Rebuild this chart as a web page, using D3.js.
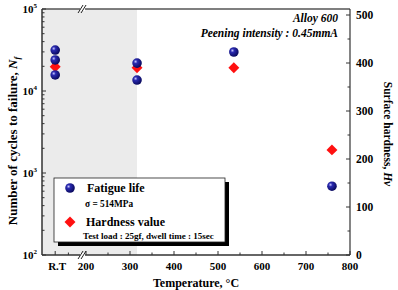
<!DOCTYPE html>
<html>
<head>
<meta charset="utf-8">
<script src="https://cdn.jsdelivr.net/npm/d3@7"></script>
<style>
  body { margin: 0; background: #fff; }
</style>
</head>
<body>
<div id="chart"></div>
<script>
// fatigue life (cycles) vs temperature
const fatigueTemp = [130, 130, 130, 316, 316, 536, 759];
const fatigueLife = [31600, 23900, 15700, 21900, 13600, 29900, 690];

// surface hardness (Hv) vs temperature
const hardTemp = [130, 316, 536, 759];
const hardValue = [392, 390, 390, 219];

const tempMajor = [200, 300, 400, 500, 600, 700, 800];
const tempMinor = [160, 250, 350, 450, 550, 650, 750];
const rtTemp = 130;
const hvMajor = [0, 100, 200, 300, 400, 500];
const hvMinor = [50, 150, 250, 350, 450];
const lifeDecades = [100, 1000, 10000, 100000];
const shadeEnd = 316;
const breakTemp = 191;

const W = 398, H = 290;
const m = {left: 42, right: 350, top: 9, bottom: 255};

const svg = d3.select("#chart").append("svg")
  .attr("width", W).attr("height", H)
  .attr("font-family", "'Liberation Serif', 'Times New Roman', Times, serif")
  .attr("font-weight", "bold");

const x = d3.scaleLinear().domain([100, 800]).range([m.left, m.right]);
const yL = d3.scaleLog().domain([100, 100000]).range([m.bottom, m.top]);
const yR = d3.scaleLinear().domain([0, 512.5]).range([m.bottom, m.top]);

// gradient for the spheres
const defs = svg.append("defs");
const grad = defs.append("radialGradient").attr("id", "ball")
  .attr("cx", "35%").attr("cy", "35%").attr("r", "65%");
grad.append("stop").attr("offset", "0%").attr("stop-color", "#c8c8ff");
grad.append("stop").attr("offset", "30%").attr("stop-color", "#2a2ab0");
grad.append("stop").attr("offset", "100%").attr("stop-color", "#0a0a60");

// shaded room temp zone
svg.append("rect")
  .attr("x", m.left).attr("y", m.top)
  .attr("width", x(shadeEnd) - m.left).attr("height", m.bottom - m.top)
  .attr("fill", "#ebebeb");

// frame
const axisColor = "#333";
svg.append("line").attr("x1", m.left).attr("x2", m.right).attr("y1", m.top).attr("y2", m.top)
  .attr("stroke", "#555").attr("stroke-width", 1.5);
svg.append("line").attr("x1", m.left).attr("x2", m.right).attr("y1", m.bottom).attr("y2", m.bottom)
  .attr("stroke", axisColor).attr("stroke-width", 1.5);
svg.append("line").attr("x1", m.left).attr("x2", m.left).attr("y1", m.top).attr("y2", m.bottom)
  .attr("stroke", axisColor).attr("stroke-width", 1.5);
svg.append("line").attr("x1", m.right).attr("x2", m.right).attr("y1", m.top).attr("y2", m.bottom)
  .attr("stroke", axisColor).attr("stroke-width", 1.2);

// bottom ticks (inward)
const ticks = svg.append("g").attr("stroke", axisColor).attr("stroke-width", 1);
tempMajor.concat([rtTemp]).forEach(t => {
  ticks.append("line").attr("x1", x(t)).attr("x2", x(t)).attr("y1", m.bottom).attr("y2", m.bottom - 4);
});
tempMinor.forEach(t => {
  ticks.append("line").attr("x1", x(t)).attr("x2", x(t)).attr("y1", m.bottom).attr("y2", m.bottom - 2.5);
});
svg.append("g").selectAll("text").data(tempMajor).join("text")
  .attr("x", d => x(d)).attr("y", 270).attr("text-anchor", "middle")
  .attr("font-size", 11).text(d => d);
svg.append("text").attr("x", x(rtTemp) + 2).attr("y", 270).attr("text-anchor", "middle")
  .attr("font-size", 11).text("R.T");

// left log ticks
lifeDecades.forEach(d => {
  ticks.append("line").attr("x1", m.left).attr("x2", m.left + 4).attr("y1", yL(d)).attr("y2", yL(d));
  if (d < 100000) {
    for (let k = 2; k <= 9; k++) {
      ticks.append("line").attr("x1", m.left).attr("x2", m.left + 2.5)
        .attr("y1", yL(d * k)).attr("y2", yL(d * k));
    }
  }
});
const leftLab = svg.append("g").selectAll("text").data(lifeDecades).join("text")
  .attr("x", 37).attr("y", d => yL(d) + 4).attr("text-anchor", "end").attr("font-size", 11);
leftLab.append("tspan").text("10");
leftLab.append("tspan").attr("font-size", 7).attr("dy", -5).text(d => Math.round(Math.log10(d)));

// right ticks
hvMajor.forEach(v => {
  ticks.append("line").attr("x1", m.right).attr("x2", m.right - 4).attr("y1", yR(v)).attr("y2", yR(v));
});
hvMinor.forEach(v => {
  ticks.append("line").attr("x1", m.right).attr("x2", m.right - 2.5).attr("y1", yR(v)).attr("y2", yR(v));
});
svg.append("g").selectAll("text").data(hvMajor).join("text")
  .attr("x", 356).attr("y", d => yR(d) + 4).attr("font-size", 11.5).text(d => d);

// axis break marks
[m.top, m.bottom].forEach(yy => {
  const bx = x(breakTemp);
  svg.append("rect").attr("x", bx - 2).attr("y", yy - 2).attr("width", 5).attr("height", 4).attr("fill", "#fff");
  [-1.5, 1.5].forEach(o => {
    svg.append("line").attr("x1", bx + o - 2.5).attr("y1", yy + 4)
      .attr("x2", bx + o + 2.5).attr("y2", yy - 4)
      .attr("stroke", "#222").attr("stroke-width", 1);
  });
});

// axis titles
svg.append("text").attr("x", 196).attr("y", 286.5).attr("text-anchor", "middle")
  .attr("font-size", 12).text("Temperature, °C");
const lt = svg.append("text").attr("transform", "translate(17,141) rotate(-90)")
  .attr("text-anchor", "middle").attr("font-size", 13);
lt.append("tspan").text("Number of cycles to failure, ");
lt.append("tspan").attr("font-style", "italic").text("N");
lt.append("tspan").attr("font-style", "italic").attr("font-size", 8).attr("dy", 3).text("f");
const rt = svg.append("text").attr("transform", "translate(384,134) rotate(90)")
  .attr("text-anchor", "middle").attr("font-size", 11.5);
rt.append("tspan").text("Surface hardness, ");
rt.append("tspan").attr("font-style", "italic").text("Hv");

// annotations
svg.append("text").attr("x", 338).attr("y", 22).attr("text-anchor", "end")
  .attr("font-size", 11.5).attr("font-style", "italic").text("Alloy 600");
svg.append("text").attr("x", 338).attr("y", 37).attr("text-anchor", "end")
  .attr("font-size", 11.5).attr("font-style", "italic").text("Peening intensity : 0.45mmA");

// data marks
const diamond = d3.symbol().type(d3.symbolSquare).size(60);
svg.append("g").selectAll("path").data(hardTemp).join("path")
  .attr("d", diamond)
  .attr("transform", (d, i) => `translate(${x(d)},${yR(hardValue[i])}) rotate(45)`)
  .attr("fill", "#ff1010");
svg.append("g").selectAll("circle").data(fatigueTemp).join("circle")
  .attr("cx", d => x(d)).attr("cy", (d, i) => yL(fatigueLife[i]))
  .attr("r", 4.8).attr("fill", "url(#ball)");

// legend
const lg = {x: 54, y: 178, w: 171, h: 64};
svg.append("rect").attr("x", lg.x + 4).attr("y", lg.y + 4).attr("width", lg.w).attr("height", lg.h).attr("fill", "#000");
svg.append("rect").attr("x", lg.x).attr("y", lg.y).attr("width", lg.w).attr("height", lg.h)
  .attr("fill", "#fff").attr("stroke", "#222").attr("stroke-width", 0.8);
svg.append("circle").attr("cx", 70).attr("cy", 188).attr("r", 4.8).attr("fill", "url(#ball)");
svg.append("text").attr("x", 87).attr("y", 192).attr("font-size", 12).text("Fatigue life");
svg.append("text").attr("x", 85).attr("y", 207).attr("font-size", 9.3).text("σ = 514MPa");
svg.append("path").attr("d", diamond).attr("transform", "translate(70,222) rotate(45)").attr("fill", "#ff1010");
svg.append("text").attr("x", 86).attr("y", 226).attr("font-size", 12).text("Hardness value");
svg.append("text").attr("x", 83).attr("y", 239).attr("font-size", 9).text("Test load : 25gf, dwell time : 15sec");
</script>
</body>
</html>
